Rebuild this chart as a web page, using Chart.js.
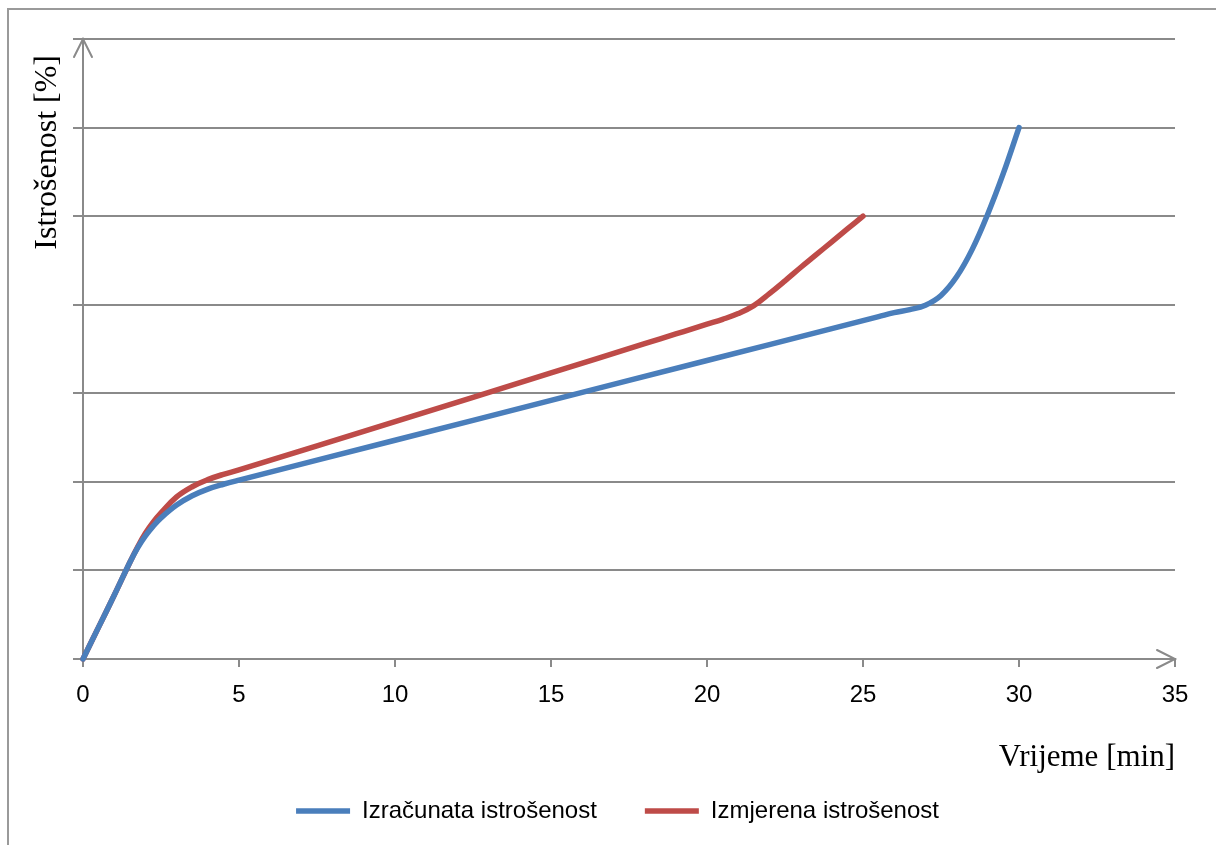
<!DOCTYPE html>
<html>
<head>
<meta charset="utf-8">
<script src="https://cdn.jsdelivr.net/npm/chart.js@4/dist/chart.umd.min.js"></script>
<style>
  html, body { margin: 0; padding: 0; background: #fff; }
  #wrap { width: 1216px; height: 845px; }
</style>
</head>
<body>
<div id="wrap"><canvas id="c" width="1216" height="845"></canvas></div>
<script>
// ---- data ----
const seriesNames = ['Izračunata istrošenost', 'Izmjerena istrošenost'];
const timeCalc = [0, 0.5, 1, 1.5, 1.75, 2, 2.25, 2.5, 3, 3.5, 4, 4.5, 5, 10, 15, 20, 24, 25, 25.5, 26, 26.5, 27, 27.5, 28, 28.5, 29, 29.5, 30];
const wearCalc = [0, 0.36, 0.72, 1.09, 1.255, 1.39, 1.5, 1.593, 1.738, 1.843, 1.918, 1.973, 2.02, 2.47, 2.92, 3.37, 3.73, 3.82, 3.865, 3.91, 3.945, 3.995, 4.105, 4.315, 4.625, 5.025, 5.485, 6.0];
const timeMeas = [0, 0.5, 1, 1.5, 1.75, 2, 2.25, 2.5, 3, 3.5, 4, 4.5, 5, 10, 15, 18, 19, 19.5, 20, 20.5, 21, 21.5, 22, 22.5, 23, 23.5, 24, 24.5, 25];
const wearMeas = [0, 0.36, 0.72, 1.09, 1.265, 1.42, 1.545, 1.65, 1.83, 1.945, 2.025, 2.085, 2.135, 2.68, 3.23, 3.56, 3.67, 3.725, 3.78, 3.835, 3.9, 3.99, 4.125, 4.27, 4.42, 4.565, 4.71, 4.855, 5.0];
const xTicks = [0, 5, 10, 15, 20, 25, 30, 35];
const yGridLevels = [0, 1, 2, 3, 4, 5, 6, 7];
const xTitle = 'Vrijeme [min]';
const yTitle = 'Istrošenost [%]';

const GRID = '#8a8a8a';
const BLUE = '#4A7EBB';
const RED = '#BE4B48';

const toPts = (xs, ys) => xs.map((x, i) => ({ x: x, y: ys[i] }));

const decor = {
  id: 'decor',
  beforeDraw(chart) {
    const ctx = chart.ctx;
    ctx.save();
    ctx.strokeStyle = '#9a9a9a';
    ctx.lineWidth = 2;
    ctx.strokeRect(8, 9, 2000, 2000);
    ctx.restore();
  },
  beforeDatasetsDraw(chart) {
    const ctx = chart.ctx;
    const a = chart.chartArea;
    ctx.save();
    ctx.strokeStyle = GRID;
    ctx.lineWidth = 2;
    ctx.lineCap = 'round';
    ctx.beginPath();
    ctx.moveTo(a.left - 9, a.top + 18);
    ctx.lineTo(a.left, a.top);
    ctx.lineTo(a.left + 9, a.top + 18);
    ctx.moveTo(a.right - 18, a.bottom - 9);
    ctx.lineTo(a.right, a.bottom);
    ctx.lineTo(a.right - 18, a.bottom + 9);
    ctx.stroke();
    ctx.restore();
  },
  afterDraw(chart) {
    const ctx = chart.ctx;
    ctx.save();
    ctx.translate(48, 55);
    ctx.rotate(-Math.PI / 2);
    ctx.font = '32px "Liberation Serif", "Times New Roman", serif';
    ctx.fillStyle = '#000';
    ctx.textAlign = 'right';
    ctx.textBaseline = 'middle';
    ctx.fillText(yTitle, 0, 0);
    ctx.restore();
  }
};

const LEG_PAD = 48;

new Chart(document.getElementById('c'), {
  type: 'line',
  data: {
    datasets: [
      {
        label: seriesNames[0],
        data: toPts(timeCalc, wearCalc),
        borderColor: BLUE, backgroundColor: BLUE,
        borderWidth: 5.5, pointRadius: 0, tension: 0.4,
        borderCapStyle: 'round', borderJoinStyle: 'round', clip: false
      },
      {
        label: seriesNames[1],
        data: toPts(timeMeas, wearMeas),
        borderColor: RED, backgroundColor: RED,
        borderWidth: 5.5, pointRadius: 0, tension: 0.4,
        borderCapStyle: 'round', borderJoinStyle: 'round', clip: false
      }
    ]
  },
  options: {
    responsive: false,
    animation: false,
    events: [],
    layout: { padding: { left: 60, top: 39, right: 41, bottom: 12 } },
    plugins: {
      tooltip: { enabled: false },
      legend: {
        position: 'bottom',
        labels: {
          usePointStyle: true,
          pointStyle: 'line',
          pointStyleWidth: 54,
          boxHeight: 5,
          padding: LEG_PAD,
          color: '#000',
          font: { family: '"Liberation Sans", Arial, sans-serif', size: 24 }
        }
      }
    },
    scales: {
      x: {
        type: 'linear',
        min: 0, max: 35,
        afterBuildTicks: s => { s.ticks = xTicks.map(v => ({ value: v })); },
        afterFit: s => { s.height = 845 - 659 - 12 - (s.chart.legend ? s.chart.legend.height : 0); },
        grid: { display: true, drawOnChartArea: false, drawTicks: true, tickLength: 8, color: GRID, lineWidth: 2 },
        border: { display: true, color: GRID, width: 2 },
        ticks: {
          color: '#000', padding: 14, maxRotation: 0,
          font: { family: '"Liberation Sans", Arial, sans-serif', size: 24 }
        },
        title: {
          display: true, text: xTitle, align: 'end', color: '#000',
          font: { family: '"Liberation Serif", "Times New Roman", serif', size: 31 },
          padding: { top: 0, bottom: -25 }
        }
      },
      y: {
        type: 'linear',
        min: 0, max: 7,
        afterBuildTicks: s => { s.ticks = yGridLevels.map(v => ({ value: v })); },
        afterFit: s => { s.width = 23; },
        grid: { display: true, drawTicks: true, tickLength: 10, color: GRID, lineWidth: 2 },
        border: { display: true, color: GRID, width: 2 },
        ticks: { display: false }
      }
    }
  },
  plugins: [decor]
});
</script>
</body>
</html>
